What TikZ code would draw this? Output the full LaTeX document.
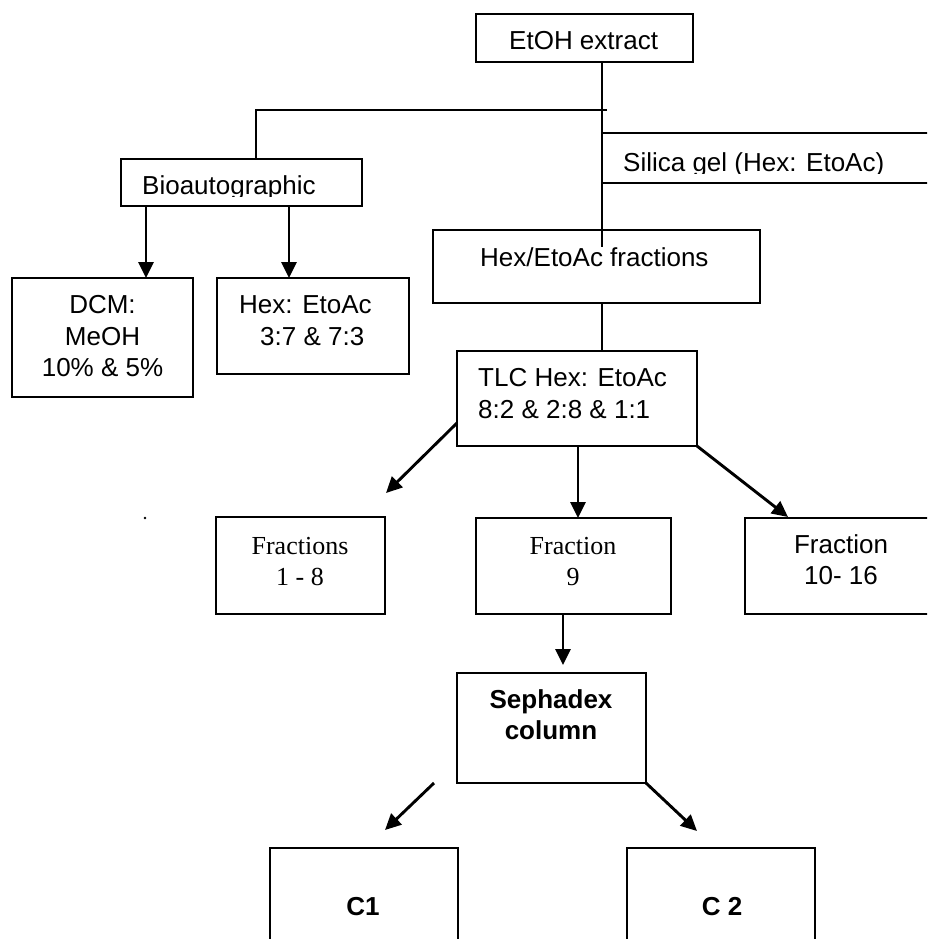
\documentclass[tikz,border=0pt]{standalone}
\usepackage{fontspec}
\setmainfont{Liberation Sans}
\newfontfamily\serifT{Liberation Serif}
\usetikzlibrary{arrows.meta}
\begin{document}
\begin{tikzpicture}[x=1pt,y=-1pt,
  box/.style={draw, line width=2.1pt, inner sep=0pt, outer sep=0pt, anchor=north west},
  conn/.style={line width=1.8pt},
  arr/.style={line width=2.9pt, -{Triangle[length=16pt,width=15pt]}},
  lbl/.style={font=\fontsize{26}{31}\selectfont, inner sep=0pt},
  slbl/.style={font=\serifT\fontsize{26}{31}\selectfont, inner sep=0pt},
  blbl/.style={font=\bfseries\fontsize{26}{31}\selectfont, inner sep=0pt}
]
\useasboundingbox (0,0) rectangle (927,939);
\clip (0,0) rectangle (927,939);

% boxes
\node[box, minimum width=217pt, minimum height=48pt] (etoh) at (476,14) {};
\node[box, minimum width=241pt, minimum height=47pt] (bio) at (121,159) {};
\node[box, minimum width=340pt, minimum height=50pt] (silica) at (602,133) {};
\node[box, minimum width=181pt, minimum height=119pt] (dcm) at (12,278) {};
\node[box, minimum width=192pt, minimum height=96pt] (hexb) at (217,278) {};
\node[box, minimum width=327pt, minimum height=73pt] (hexf) at (433,230) {};
\node[box, minimum width=240pt, minimum height=95pt] (tlc) at (457,351) {};
\node[box, minimum width=169pt, minimum height=97pt] (f18) at (216,517) {};
\node[box, minimum width=195pt, minimum height=96pt] (f9) at (476,518) {};
\node[box, minimum width=200pt, minimum height=96pt] (f1016) at (745,518) {};
\node[box, minimum width=189pt, minimum height=110pt] (seph) at (457,673) {};
\node[box, minimum width=188pt, minimum height=120pt] (c1) at (270,848) {};
\node[box, minimum width=188pt, minimum height=120pt] (c2) at (627,848) {};

% texts
\node[lbl, anchor=base west] at (509,50) {EtOH extract};
\begin{scope}
  \clip (121,159) rectangle (362,196);
  \node[lbl, anchor=base west] at (142,194.5) {Bioautographic};
\end{scope}
\begin{scope}
  \clip (602,133) rectangle (927,173);
  \node[lbl, anchor=base west] at (623,171.5) {Silica gel (Hex: EtoAc)};
\end{scope}
\node[lbl, anchor=base] at (102.5,313.5) {DCM:};
\node[lbl, anchor=base] at (102.5,345) {MeOH};
\node[lbl, anchor=base] at (102.5,376.5) {10\% \& 5\%};
\node[lbl, anchor=base west] at (239,313) {Hex: EtoAc};
\node[lbl, anchor=base west] at (260,345) {3:7 \& 7:3};
\node[lbl, anchor=base west] at (480,266) {Hex/EtoAc fractions};
\node[lbl, anchor=base west] at (478,386.5) {TLC Hex: EtoAc};
\node[lbl, anchor=base west] at (478,418) {8:2 \& 2:8 \& 1:1};
\node[slbl, anchor=base] at (300,554) {Fractions};
\node[slbl, anchor=base] at (300,585) {1 - 8};
\node[slbl, anchor=base] at (573,554) {Fraction};
\node[slbl, anchor=base] at (573,585) {9};
\node[lbl, anchor=base] at (841,553.5) {Fraction};
\node[lbl, anchor=base] at (841,584.5) {10- 16};
\node[blbl, anchor=base] at (551,708.5) {Sephadex};
\node[blbl, anchor=base] at (551,739) {column};
\node[blbl, anchor=base] at (363,915) {C1};
\node[blbl, anchor=base] at (722,915) {C 2};

% stray dot
\fill (145,518) circle (1.3pt);

% connectors
\coordinate (jr) at (607,110);
\coordinate (jl) at (256,110);
\coordinate (vin) at (602,247);
\draw[conn] (jr) -- (jl) -- (jl |- bio.north);
\draw[conn] (etoh.south -| vin) -- (vin);
\draw[conn] (hexf.south -| vin) -- (tlc.north -| vin);

\coordinate (b1) at (146,206);
\coordinate (b2) at (289,206);
\draw[arr] (b1) -- (b1 |- dcm.north);
\draw[arr] (b2) -- (b2 |- hexb.north);

\coordinate (t1) at (457,423);
\coordinate (t1e) at (386,493);
\draw[arr] (t1) -- (t1e);
\coordinate (t2) at (578,446);
\draw[arr] (t2) -- (t2 |- f9.north);
\coordinate (t3e) at (788,517);
\draw[arr] (tlc.south east) -- (t3e);

\coordinate (s0) at (563,614);
\coordinate (s0e) at (563,665);
\draw[arr] (s0) -- (s0e);

\coordinate (p1) at (434,783);
\coordinate (p1e) at (385,830);
\draw[arr] (p1) -- (p1e);
\coordinate (p2e) at (697,831);
\draw[arr] (seph.south east) -- (p2e);
\end{tikzpicture}
\end{document}
